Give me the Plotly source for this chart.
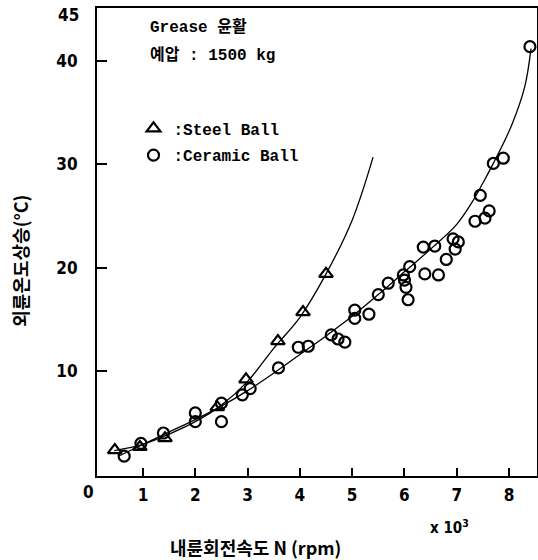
import plotly.graph_objects as go

# Steel ball measurements (x in 10^3 rpm, y in deg C)
steel_x = [0.46, 0.94, 1.42, 2.42, 2.97, 3.58, 4.06, 4.50]
steel_y = [2.35, 2.65, 3.5, 6.5, 9.2, 12.9, 15.7, 19.4]

# Ceramic ball measurements
ceramic_x = [0.64, 0.96, 1.39, 2.00, 2.00, 2.50, 2.50, 2.90, 3.05, 3.59, 3.97, 4.16,
             4.60, 4.73, 4.86, 5.05, 5.05, 5.32, 5.50, 5.69, 5.98, 6.10, 6.00, 6.03,
             6.07, 6.39, 6.65, 6.36, 6.58, 6.80, 6.93, 7.03, 6.97, 7.35, 7.54, 7.62,
             7.45, 7.70, 7.89, 8.40]
ceramic_y = [1.76, 3.0, 4.0, 5.95, 5.1, 5.1, 6.9, 7.7, 8.3, 10.3, 12.3, 12.4,
             13.5, 13.1, 12.8, 15.9, 15.1, 15.5, 17.4, 18.5, 19.3, 20.1, 18.8, 18.1,
             16.9, 19.4, 19.3, 22.0, 22.1, 20.8, 22.8, 22.5, 21.8, 24.5, 24.8, 25.5,
             27.0, 30.1, 30.6, 41.4]

# Fitted curves
steel_fit_x = [0.45, 1.0, 1.5, 2.0, 2.5, 3.0, 3.5, 4.0, 4.5, 5.0, 5.4]
steel_fit_y = [2.3, 2.9, 3.9, 5.1, 6.7, 9.0, 12.2, 15.2, 19.4, 24.6, 30.7]
ceramic_fit_x = [0.55, 1.0, 1.5, 2.0, 2.5, 3.0, 3.5, 4.0, 4.5, 5.0, 5.5, 6.0, 6.5, 7.0,
                 7.3, 7.5, 7.7, 8.05, 8.3, 8.42]
ceramic_fit_y = [1.8, 2.9, 4.1, 5.3, 6.6, 8.1, 9.8, 11.6, 13.4, 15.3, 17.4, 19.6, 21.8,
                 24.2, 26.4, 28.2, 30.1, 33.8, 37.5, 41.2]

x_ticks = [1, 2, 3, 4, 5, 6, 7, 8]
y_ticks = [10, 20, 30, 40]

TXT = "Liberation Mono, Noto Sans CJK KR, monospace"
NUM = "Liberation Sans Narrow, DejaVu Sans Condensed, sans-serif"
KR = "Noto Sans CJK KR, sans-serif"

fig = go.Figure()
fig.add_trace(go.Scatter(x=steel_fit_x, y=steel_fit_y, mode="lines",
                         line=dict(color="black", width=1.3, shape="spline"),
                         showlegend=False, hoverinfo="skip"))
fig.add_trace(go.Scatter(x=ceramic_fit_x, y=ceramic_fit_y, mode="lines",
                         line=dict(color="black", width=1.3, shape="spline"),
                         showlegend=False, hoverinfo="skip"))
fig.add_trace(go.Scatter(x=steel_x, y=steel_y, mode="markers", name=":Steel Ball",
                         legendgroup="a",
                         marker=dict(symbol="triangle-up-open", size=12, color="black",
                                     line=dict(width=2.2, color="black"))))
fig.add_trace(go.Scatter(x=ceramic_x, y=ceramic_y, mode="markers", name=":Ceramic Ball",
                         legendgroup="b",
                         marker=dict(symbol="circle-open", size=11, color="black",
                                     line=dict(width=2.2, color="black"))))

fig.update_layout(
    width=538, height=560,
    margin=dict(l=97, r=1, t=8, b=84),
    paper_bgcolor="white", plot_bgcolor="white",
    showlegend=True,
    legend=dict(x=0.083, y=0.779, xanchor="left", yanchor="top",
                font=dict(family=TXT, size=16, color="black", weight="bold"),
                bgcolor="rgba(0,0,0,0)", tracegroupgap=3, traceorder="grouped"),
    xaxis=dict(range=[0.12, 8.535], tickvals=x_ticks, ticktext=[str(v) for v in x_ticks],
               ticks="inside", ticklen=8, tickwidth=1.5, tickcolor="black",
               showline=True, linecolor="black", linewidth=2, mirror=True,
               showgrid=False, zeroline=False, ticklabelstandoff=3, automargin=False,
               tickfont=dict(family=NUM, size=17, color="black", weight="bold")),
    yaxis=dict(range=[-0.16, 45.14], tickvals=y_ticks, ticktext=[str(v) for v in y_ticks],
               ticks="inside", ticklen=10, tickwidth=1.5, tickcolor="black",
               showline=True, linecolor="black", linewidth=2, mirror=True,
               showgrid=False, zeroline=False, ticklabelstandoff=14, automargin=False,
               tickfont=dict(family=NUM, size=17, color="black", weight="bold")),
    annotations=[
        dict(text="45", xref="paper", yref="paper", x=-0.037, y=0.985,
             xanchor="right", yanchor="middle", showarrow=False,
             font=dict(family=NUM, size=17, color="black", weight="bold")),
        dict(text="Grease 윤활", xref="paper", yref="paper", x=0.115, y=0.958,
             xanchor="left", yanchor="middle", showarrow=False,
             font=dict(family=TXT, size=16, color="black", weight="bold")),
        dict(text="예압 : 1500 kg", xref="paper", yref="paper", x=0.115, y=0.898,
             xanchor="left", yanchor="middle", showarrow=False,
             font=dict(family=TXT, size=16, color="black", weight="bold")),
        dict(text="0", xref="paper", yref="paper", x=-0.02, y=-0.035,
             xanchor="center", yanchor="middle", showarrow=False,
             font=dict(family=NUM, size=17, color="black", weight="bold")),
        dict(text="x 10<sup>3</sup>", xref="paper", yref="paper", x=0.752, y=-0.108,
             xanchor="left", yanchor="middle", showarrow=False,
             font=dict(family=NUM, size=15, color="black", weight="bold")),
        dict(text="내륜회전속도 N (rpm)", xref="paper", yref="paper", x=0.36, y=-0.152,
             xanchor="center", yanchor="middle", showarrow=False,
             font=dict(family=KR, size=18, color="black", weight="bold")),
        dict(text="외륜온도상승(°C)", xref="paper", yref="paper", x=-0.175, y=0.46,
             xanchor="center", yanchor="middle", showarrow=False, textangle=-90,
             font=dict(family=KR, size=18, color="black", weight="bold")),
    ],
)

fig.write_html("out.html", config={"displayModeBar": False},
               post_script="document.body.style.margin='0';")
